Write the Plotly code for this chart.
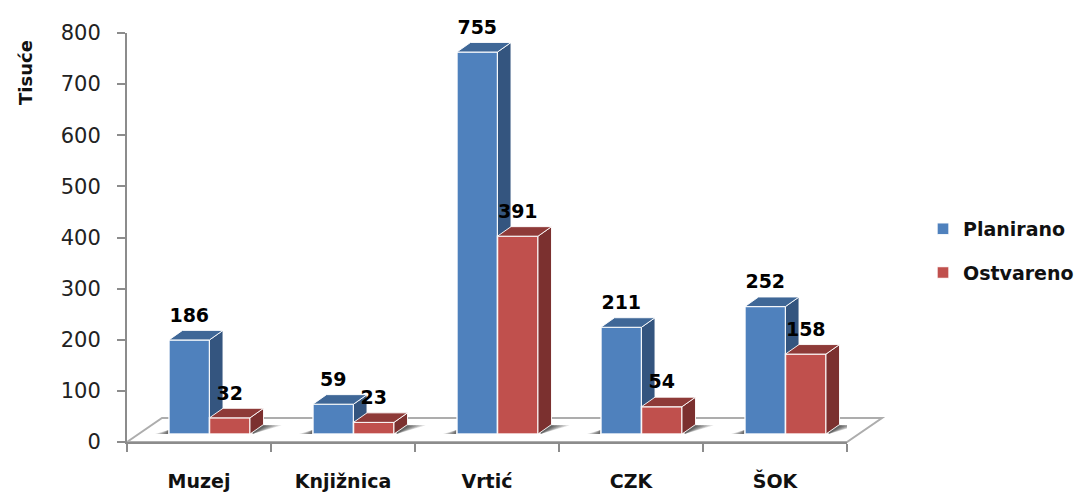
import plotly.graph_objects as go

categories = ["Muzej", "Knjižnica", "Vrtić", "CZK", "ŠOK"]
planirano = [186, 59, 755, 211, 252]
ostvareno = [32, 23, 391, 54, 158]
y_ticks = [0, 100, 200, 300, 400, 500, 600, 700, 800]

W, H = 1080, 495
L, T, B = 127, 33, 16
AX_RIGHT, AX_BOTTOM = 847, 442
PAPER_W, PAPER_H = W - L, H - T - B
BLUE, BLUE_TOP, BLUE_SIDE = "#4F81BD", "#3F6797", "#34557F"
RED, RED_TOP, RED_SIDE = "#C0504D", "#8E3A38", "#7B302F"
AXIS = "#8C8C8C"
BAR_W = 40.5 / 144
DX = 13.5 / 144
DY = 9.5 / 0.506
GROUP_OFF = 0.573
Y2 = [-15.8, 792.5]
FLOOR_DX, FLOOR_DY = 35, 24
X_DOMAIN = [0, (AX_RIGHT - L) / PAPER_W]
Y_DOMAIN = [(H - B - AX_BOTTOM) / PAPER_H, 1]


def px(p):
    return (p - L) / PAPER_W


def py(p):
    return 1 - (p - T) / PAPER_H


fig = go.Figure()


def poly(xs, ys, color, xa, ya, line="rgba(255,255,255,0.9)", lw=1):
    fig.add_trace(go.Scatter(x=xs, y=ys, xaxis=xa, yaxis=ya, mode="lines", fill="toself",
                             fillcolor=color, line=dict(color=line, width=lw),
                             showlegend=False, hoverinfo="skip"))


# soft floor shadows
base_y = 15.8 * 800 / 808.3
for i in range(len(categories)):
    c = i + GROUP_OFF
    right = c + BAR_W + DX * 0.2
    left = c - BAR_W - 0.005
    for k in range(1, 7):
        w = (11 + k * 3) / 144
        poly([right, right + w, right], [base_y, base_y + 17, base_y + 17],
             "rgba(0,0,0,0.14)", "x", "y", line="rgba(0,0,0,0)", lw=0)
        w2 = k * 2.2 / 144
        poly([left, left - w2, left], [base_y, base_y, base_y + 8],
             "rgba(0,0,0,0.13)", "x", "y", line="rgba(0,0,0,0)", lw=0)

# blue columns
centers = [i + GROUP_OFF for i in range(len(categories))]
fig.add_trace(go.Bar(name="Planirano", x=[c - BAR_W / 2 for c in centers], y=planirano,
                     width=BAR_W, xaxis="x2", yaxis="y2", legendgroup="a",
                     marker=dict(color=BLUE, line=dict(color="rgba(255,255,255,0.9)", width=1.5))))
for c, v in zip(centers, planirano):
    xl, xr = c - BAR_W, c
    poly([xr, xr + DX, xr + DX, xr, xr], [0, DY, v + DY, v, 0], BLUE_SIDE, "x2", "y2")
    poly([xl, xl + DX, xr + DX, xr, xl], [v, v + DY, v + DY, v, v], BLUE_TOP, "x2", "y2")

# red columns
fig.add_trace(go.Bar(name="Ostvareno", x=[c + BAR_W / 2 for c in centers], y=ostvareno,
                     width=BAR_W, xaxis="x3", yaxis="y3", legendgroup="b",
                     marker=dict(color=RED, line=dict(color="rgba(255,255,255,0.9)", width=1.5))))
for c, v in zip(centers, ostvareno):
    xl, xr = c, c + BAR_W
    poly([xr, xr + DX, xr + DX, xr, xr], [0, DY, v + DY, v, 0], RED_SIDE, "x3", "y3")
    poly([xl, xl + DX, xr + DX, xr, xl], [v, v + DY, v + DY, v, v], RED_TOP, "x3", "y3")

# value labels
label_lift = DY + 8
for offs, vals in ((-BAR_W / 2, planirano), (BAR_W / 2, ostvareno)):
    fig.add_trace(go.Scatter(x=[c + offs for c in centers], y=[v + label_lift for v in vals],
                             xaxis="x3", yaxis="y3", mode="text", text=[str(v) for v in vals],
                             textposition="top center", showlegend=False, hoverinfo="skip",
                             cliponaxis=False,
                             textfont=dict(family="DejaVu Sans", size=19, color="#000000", weight="bold")))

fig.update_layout(
    width=W, height=H, autosize=False,
    margin=dict(l=L, r=0, t=T, b=B),
    paper_bgcolor="white", plot_bgcolor="white",
    font=dict(family="DejaVu Sans", color="#1a1a1a"),
    xaxis=dict(domain=X_DOMAIN, range=[0, 5], tickvals=[0, 1, 2, 3, 4, 5], showticklabels=False,
               ticks="outside", ticklen=8, tickwidth=2, tickcolor=AXIS, showline=True, linecolor=AXIS,
               linewidth=2, showgrid=False, zeroline=False, fixedrange=True, automargin=False),
    yaxis=dict(domain=Y_DOMAIN, range=[0, 800], tickvals=y_ticks, ticks="outside", ticklen=8, tickwidth=2,
               tickcolor=AXIS, showline=True, linecolor=AXIS, linewidth=2, showgrid=False,
               zeroline=False, tickfont=dict(size=21, color="#222222"), ticklabelstandoff=12,
               automargin=False),
    xaxis2=dict(domain=X_DOMAIN, overlaying="x", range=[0, 5], anchor="y2",
                tickvals=[i + 0.5 for i in range(5)],
                ticktext=categories, ticks="", showline=False, showgrid=False, zeroline=False,
                tickfont=dict(family="DejaVu Sans", size=19, color="#111111", weight="bold"),
                ticklabelstandoff=26, automargin=False),
    yaxis2=dict(domain=Y_DOMAIN, overlaying="y", range=Y2, visible=False),
    xaxis3=dict(domain=X_DOMAIN, overlaying="x", range=[0, 5], anchor="y3", visible=False),
    yaxis3=dict(domain=Y_DOMAIN, overlaying="y", range=Y2, visible=False),
    legend=dict(x=px(923), y=py(210), xanchor="left", yanchor="top",
                tracegroupgap=16, itemclick=False, itemdoubleclick=False,
                entrywidth=112, entrywidthmode="pixels",
                font=dict(family="DejaVu Sans", size=19, color="#111111", weight="bold"),
                bgcolor="rgba(0,0,0,0)"),
    showlegend=True,
    shapes=[dict(type="path", xref="paper", yref="paper", layer="below",
                 path=(f"M {px(L)} {py(AX_BOTTOM)} L {px(L + FLOOR_DX)} {py(AX_BOTTOM - FLOOR_DY)} "
                       f"L {px(AX_RIGHT + FLOOR_DX)} {py(AX_BOTTOM - FLOOR_DY)} L {px(AX_RIGHT)} {py(AX_BOTTOM)} Z"),
                 fillcolor="white", line=dict(color="#ADADAD", width=2))],
    annotations=[dict(text="Tisuće", xref="paper", yref="paper", x=px(25), y=py(73),
                      xanchor="center", yanchor="middle", textangle=-90, showarrow=False,
                      font=dict(family="DejaVu Sans", size=18, color="#111111", weight="bold"))],
)
fig.write_html("out.html", config=dict(displayModeBar=False),
               post_script="document.body.style.margin='0';")
